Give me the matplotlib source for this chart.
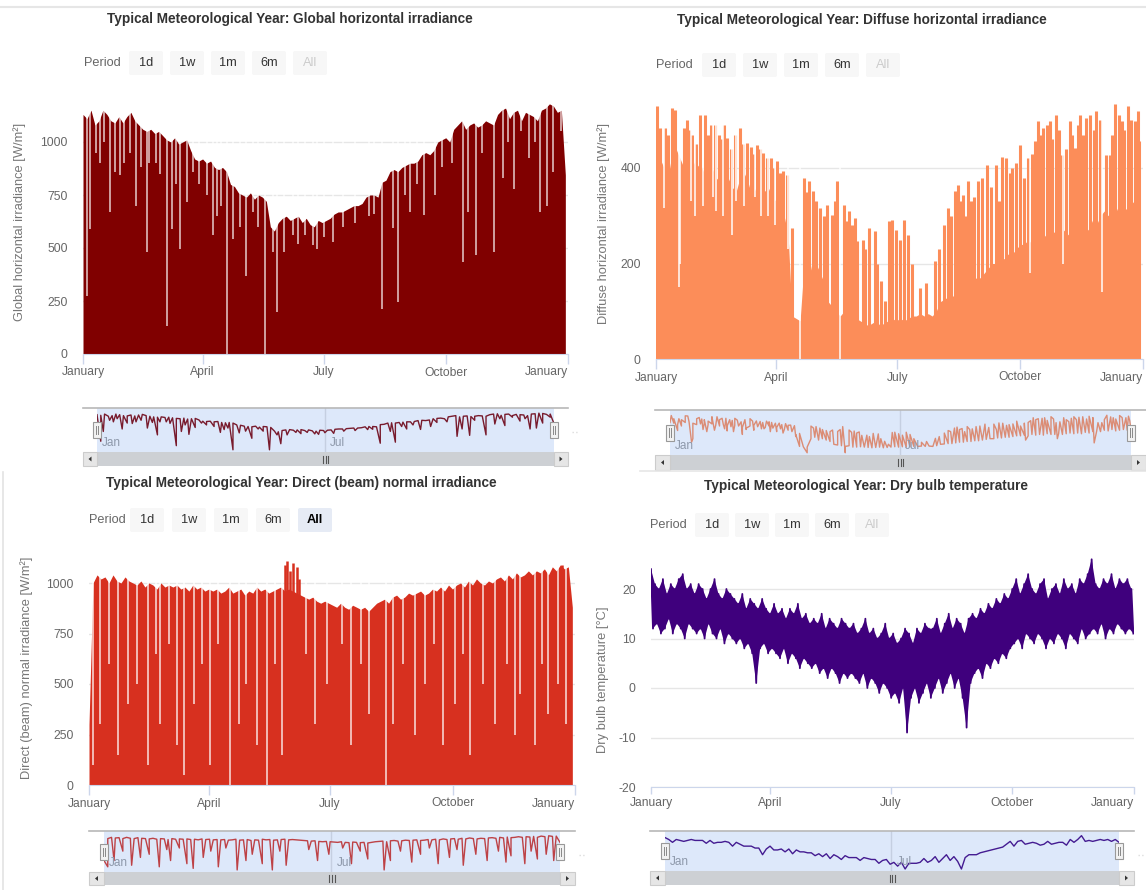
import numpy as np
import matplotlib
matplotlib.use("Agg")
import matplotlib.pyplot as plt
from matplotlib.patches import Rectangle, FancyBboxPatch, Polygon
from matplotlib.lines import Line2D

plt.rcParams['font.family'] = ['Liberation Sans', 'DejaVu Sans']
plt.rcParams['axes.unicode_minus'] = False

# ---------------------------------------------------------------- data
DAYS = list(range(0, 364, 3))                      # sample day of year
MONTH_TICKS = [0, 90, 181, 273, 365]
MONTH_LABELS = ['January', 'April', 'July', 'October', 'January']
NAV_LABEL_DAYS = [0, 181]
NAV_LABELS = ['Jan', 'Jul']
PERIOD_BUTTONS = ['1d', '1w', '1m', '6m', 'All']

TITLES = ['Typical Meteorological Year: Global horizontal irradiance',
          'Typical Meteorological Year: Diffuse horizontal irradiance',
          'Typical Meteorological Year: Direct (beam) normal irradiance',
          'Typical Meteorological Year: Dry bulb temperature']
YLABELS = ['Global horizontal irradiance [W/m²]',
           'Diffuse horizontal irradiance [W/m²]',
           'Direct (beam) normal irradiance [W/m²]',
           'Dry bulb temperature [°C]']

# Global horizontal irradiance: daily peak envelope (every 3 days) + low days
GHI_PEAK = [1130, 1110, 1150, 1080, 1100, 1150, 1130, 1100, 1090, 1120, 1090,
            1120, 1140, 1100, 1080, 1060, 1050, 1060, 1040, 1050, 1030,
            1010, 1000, 1020, 990, 1000, 1010, 960, 920, 910, 920,
            900, 910, 880, 870, 880, 860, 800, 790, 760, 750,
            740, 760, 730, 750, 740, 720, 600, 580, 620, 640,
            650, 630, 640, 650, 620, 640, 610, 600, 630, 620,
            630, 640, 660, 670, 670, 680, 690, 700, 700, 710,
            740, 750, 750, 740, 810, 820, 860, 870, 860, 880,
            890, 900, 900, 910, 940, 950, 940, 960, 1000, 1010,
            1020, 1000, 1060, 1080, 1100, 1060, 1080, 1090, 1070, 1080,
            1100, 1090, 1080, 1130, 1150, 1160, 1110, 1140, 1150, 1100,
            1140, 1130, 1120, 1100, 1150, 1160, 1180, 1170, 1140, 1150, 845]
GHI_DIP_DAYS = [3, 5, 10, 13, 16, 20, 24, 28, 31, 35, 40, 44, 48, 50, 55, 58,
                63, 67, 70, 73, 78, 83, 87, 93, 98, 101, 104, 108, 113, 118,
                123, 128, 132, 137, 143, 146, 151, 158, 162, 167, 173, 176,
                181, 188, 196, 205, 215, 219, 225, 233, 237, 242, 246, 251,
                257, 265, 270, 278, 286, 290, 296, 300, 309, 316, 320, 324,
                330, 336, 340, 344, 349, 354, 360]
GHI_DIP_VALUES = [275, 590, 950, 900, 1000, 670, 860, 845, 900, 950, 700, 880,
                  480, 900, 900, 850, 133, 590, 800, 497, 718, 860, 800, 750,
                  560, 650, 700, 0, 544, 600, 370, 670, 600, 0, 480, 196, 480,
                  560, 520, 560, 512, 497, 550, 528, 600, 620, 650, 660, 212,
                  592, 245, 750, 670, 800, 655, 750, 880, 900, 433, 670, 465,
                  950, 480, 830, 1000, 780, 1050, 924, 1000, 670, 700, 860, 1050]

# Diffuse horizontal irradiance: base level (every 3 days) + peak days + low days
DHI_BASE = [430, 420, 400, 380, 430, 440, 420, 400, 410, 420, 400,
            410, 390, 380, 400, 380, 370, 390, 380, 360, 350,
            380, 390, 370, 340, 360, 380, 350, 360, 340, 330,
            320, 300, 260, 90, 85, 80, 200, 220, 180, 200,
            180, 160, 120, 110, 100, 90, 100, 80, 80, 85,
            80, 75, 70, 75, 80, 70, 75, 80, 85, 80,
            85, 80, 85, 90, 90, 95, 90, 95, 90, 100,
            120, 125, 130, 130, 140, 150, 150, 160, 160, 170,
            170, 180, 190, 200, 200, 210, 210, 220, 220, 230,
            240, 240, 250, 240, 260, 250, 260, 250, 270, 260,
            260, 270, 260, 270, 280, 270, 280, 270, 290, 280,
            300, 310, 300, 320, 310, 330, 310, 320, 330, 320, 330]
DHI_PEAK_DAYS = [1, 3, 7, 9, 12, 14, 21, 23, 25, 27, 30, 33, 37, 39, 41, 44,
                 47, 49, 51, 53, 56, 59, 63, 65, 68, 71, 73, 76, 78, 80, 83,
                 86, 88, 91, 93, 95, 98, 102, 111, 113, 115, 118, 120, 123,
                 126, 128, 132, 134, 136, 141, 143, 145, 147, 149, 151, 155,
                 157, 160, 164, 166, 169, 172, 175, 177, 180, 183, 186, 189,
                 192, 198, 202, 209, 212, 216, 219, 221, 224, 226, 228, 230,
                 232, 234, 236, 238, 241, 244, 248, 251, 255, 257, 259, 262,
                 265, 267, 270, 273, 276, 279, 282, 284, 286, 288, 290, 293,
                 295, 297, 300, 302, 304, 307, 310, 312, 314, 316, 318, 320,
                 322, 325, 328, 330, 333, 337, 340, 342, 344, 347, 349, 351,
                 354, 356, 359, 361, 362]
DHI_PEAK_VALUES = [529, 484, 484, 470, 525, 522, 484, 501, 480, 470, 450, 512,
                   512, 470, 490, 490, 470, 460, 490, 463, 440, 470, 484, 450,
                   452, 445, 430, 449, 440, 431, 420, 421, 400, 414, 390, 393,
                   385, 275, 379, 350, 372, 351, 330, 316, 300, 323, 302, 330,
                   372, 323, 290, 309, 280, 296, 247, 250, 230, 275, 268, 200,
                   163, 121, 288, 292, 270, 250, 292, 260, 200, 149, 160, 205,
                   230, 280, 316, 300, 351, 365, 330, 344, 300, 372, 330, 340,
                   372, 380, 407, 360, 407, 330, 424, 420, 390, 400, 410, 449,
                   380, 421, 430, 456, 498, 470, 484, 490, 498, 460, 512, 480,
                   428, 440, 498, 470, 442, 490, 512, 470, 505, 512, 480, 519,
                   500, 428, 428, 470, 533, 510, 498, 480, 529, 500, 498, 520, 456]
DHI_DIP_DAYS = [6, 17, 18, 26, 29, 35, 43, 45, 50, 57, 60, 66, 74, 79, 84, 89,
                99, 108, 138, 280, 305, 334]
DHI_DIP_VALUES = [316, 150, 200, 330, 300, 320, 340, 310, 300, 260, 330, 320,
                  340, 300, 300, 280, 230, 0, 0, 180, 200, 140]

# Direct normal irradiance: daily peak envelope (every 3 days) + clear peaks + low days
DNI_PEAK = [300, 1000, 1040, 1020, 1030, 1000, 1040, 1010, 1000, 1030, 1010,
            1000, 990, 1010, 980, 1000, 990, 970, 1000, 980, 990,
            980, 990, 970, 980, 960, 990, 970, 980, 960, 970,
            960, 970, 950, 960, 980, 950, 960, 970, 940, 960,
            950, 980, 960, 970, 950, 960, 970, 980, 960, 970,
            960, 950, 940, 930, 920, 930, 910, 900, 910, 900,
            890, 880, 900, 880, 870, 890, 880, 870, 880, 860,
            880, 900, 910, 920, 900, 930, 940, 920, 930, 950,
            940, 950, 960, 940, 950, 970, 960, 980, 960, 990,
            970, 990, 1000, 980, 1010, 990, 1020, 1000, 990, 1010,
            1000, 1020, 1030, 1010, 1040, 1020, 1050, 1030, 1040, 1060,
            1040, 1060, 1050, 1070, 1040, 1080, 1060, 1090, 1070, 1080, 880]
DNI_HIGH_DAYS = [147, 149, 151, 153, 156, 158, 355]
DNI_HIGH_VALUES = [1090, 1110, 1060, 1100, 1080, 1020, 1090]
DNI_DIP_DAYS = [3, 8, 15, 22, 29, 36, 44, 50, 53, 60, 66, 71, 79, 85, 91, 97,
                106, 113, 118, 126, 134, 140, 145, 163, 170, 179, 190, 197,
                204, 210, 223, 228, 236, 245, 252, 259, 266, 275, 281, 286,
                296, 305, 314, 320, 324, 335, 340, 345, 352, 358]
DNI_DIP_VALUES = [100, 300, 600, 150, 400, 500, 100, 650, 300, 700, 200, 50,
                  400, 600, 100, 700, 0, 300, 500, 200, 0, 600, 150, 650, 300,
                  500, 700, 200, 600, 350, 0, 300, 600, 250, 500, 700, 200,
                  400, 650, 150, 500, 300, 600, 250, 450, 200, 600, 350, 500, 300]

# Dry bulb temperature: daily maxima (days 0,3,..) and minima (days 1.5,4.5,..)
TEMP_MAX = [24, 21, 20, 22, 19, 21, 20, 22, 23, 20, 21,
            19, 21, 20, 18, 20, 22, 19, 18, 20, 19,
            18, 17, 19, 16, 18, 17, 16, 18, 16, 15,
            17, 15, 16, 14, 16, 15, 17, 14, 15, 13,
            14, 13, 15, 12, 14, 13, 12, 14, 13, 12,
            13, 11, 12, 14, 11, 12, 10, 11, 13, 10,
            11, 9, 10, 12, 11, 9, 12, 11, 13, 12,
            12, 14, 11, 13, 15, 12, 14, 13, 11, 14,
            15, 14, 16, 15, 17, 16, 18, 17, 19, 18,
            20, 22, 19, 21, 23, 20, 19, 21, 22, 18,
            20, 21, 19, 22, 20, 21, 19, 22, 21, 23,
            26, 21, 20, 22, 21, 23, 20, 22, 21, 22, 20]
TEMP_MIN = [12, 13, 11, 12, 14, 11, 13, 12, 10, 13, 12,
            11, 12, 10, 13, 11, 10, 12, 9, 11, 10,
            9, 10, 8, 9, 7, 1, 8, 9, 7, 8,
            7, 6, 8, 5, 7, 6, 4, 6, 5, 4,
            5, 3, 4, 2, 4, 3, 1, 3, 2, 3,
            2, 1, 3, 0, 2, 1, -1, 1, 0, -2,
            -1, -3, 0, -9, -2, 0, -3, -1, 1, -2,
            0, 2, -1, 1, 3, 0, 2, -2, -8, 1,
            3, 4, 2, 5, 4, 6, 5, 7, 6, 8,
            9, 10, 8, 11, 10, 9, 11, 10, 8, 10,
            9, 11, 10, 8, 11, 10, 9, 12, 10, 11,
            12, 11, 13, 10, 12, 11, 13, 12, 11, 12, 11]

GHI_COLOR = '#800000'
DHI_COLOR = '#fc8d59'
DNI_COLOR = '#d7301f'
TEMP_COLOR = '#3f007d'

# ---------------------------------------------------------------- helpers
W, H = 1146, 890
fig = plt.figure(figsize=(W / 100, H / 100), dpi=100)
fig.patch.set_facecolor('white')


def pbox(x0, y0, x1, y1):
    return [x0 / W, 1 - y1 / H, (x1 - x0) / W, (y1 - y0) / H]


def ftext(x, y, s, **kw):
    fig.text(x / W, 1 - y / H, s, **kw)


def frect(x0, y0, x1, y1, **kw):
    fig.patches.append(Rectangle((x0 / W, 1 - y1 / H), (x1 - x0) / W, (y1 - y0) / H,
                                 transform=fig.transFigure, **kw))


def fline(xs, ys, **kw):
    fig.lines.append(Line2D([x / W for x in xs], [1 - y / H for y in ys],
                            transform=fig.transFigure, **kw))


def fpoly(pts, **kw):
    fig.patches.append(Polygon([(x / W, 1 - y / H) for x, y in pts],
                               closed=True, transform=fig.transFigure, **kw))


def header(title, tx, ty, px, py, bx0, step, selected=False):
    ftext(tx, ty, title, fontsize=9.8, fontweight='bold', color='#333333',
          ha='center', va='center')
    ftext(px, py, 'Period', fontsize=9.2, color='#666666', ha='left', va='center')
    for i, lab in enumerate(PERIOD_BUTTONS):
        x0 = bx0 + i * step
        face, col, wt = '#f7f7f7', '#333333', 'normal'
        if lab == 'All':
            if selected:
                face, col, wt = '#e6ebf5', '#000000', 'bold'
            else:
                col = '#cccccc'
        fig.patches.append(FancyBboxPatch(((x0 + 1) / W, 1 - (py + 12) / H),
                                          34 / W, 24 / H,
                                          boxstyle='round,pad=0,rounding_size=0.002',
                                          transform=fig.transFigure, fc=face, ec='none'))
        ftext(x0 + 18, py, lab, fontsize=9.2, color=col, fontweight=wt,
              ha='center', va='center')


def main_axes(x0, x1, ytop, ybot, vbot, vref, yref, yticks, ylabel, lx, ly, tick_len):
    s = (ybot - yref) / (vref - vbot)
    vtop = vbot + (ybot - ytop) / s
    ax = fig.add_axes(pbox(x0, ytop, x1, ybot))
    ax.set_xlim(0, 365)
    ax.set_ylim(vbot, vtop)
    ax.patch.set_alpha(0)
    for sp in ['top', 'right', 'left']:
        ax.spines[sp].set_visible(False)
    ax.spines['bottom'].set_color('#ccd6eb')
    ax.set_yticks(yticks)
    ax.yaxis.grid(True, color='#e6e6e6', lw=1)
    ax.set_axisbelow(True)
    ax.tick_params(axis='y', length=0, pad=11, labelsize=8.7, labelcolor='#666666')
    ax.set_xticks(MONTH_TICKS)
    ax.set_xticklabels(MONTH_LABELS)
    ax.tick_params(axis='x', length=tick_len, width=1, color='#ccd6eb', pad=2,
                   labelsize=8.7, labelcolor='#666666')
    ax.get_xticklabels()[-1].set_ha('right')
    ftext(lx, ly, ylabel, fontsize=9.3, color='#777777', rotation=90,
          ha='center', va='center')
    return ax, vtop


def navigator(ox0, ox1, top, bot, sx0, sx1, sbb, xs, ys, color):
    ax = fig.add_axes(pbox(sx0, top, sx1, bot))
    ymin, ymax = min(ys), max(ys)
    rng = ymax - ymin
    ax.set_xlim(min(xs), max(xs))
    ax.set_ylim(ymin - 0.06 * rng, ymax + 0.14 * rng)
    ax.axvline(NAV_LABEL_DAYS[1], color='#e0e0e0', lw=1, zorder=0)
    ax.plot(xs, ys, color=color, lw=1, zorder=2)
    ax.add_patch(Rectangle((0, 0), 1, 1, transform=ax.transAxes,
                           fc=(0.35, 0.55, 0.9, 0.2), ec='none', zorder=3))
    ax.axis('off')
    for d, lab in zip(NAV_LABEL_DAYS, NAV_LABELS):
        xp = sx0 + (d - min(xs)) / (max(xs) - min(xs)) * (sx1 - sx0)
        ftext(xp + 5, bot - 9, lab, fontsize=8.5, color='#8d98aa', ha='left',
              va='center')
    fline([ox0, ox1], [top, top], color='#b8b8b8', lw=1.2)
    cy = (top + bot) / 2
    for hx in (sx0, sx1):
        frect(hx - 4, cy - 8, hx + 4, cy + 8, fc='#f2f2f2', ec='#999999', lw=0.8)
        fline([hx - 1.3, hx - 1.3], [cy - 4, cy + 4], color='#888888', lw=0.7)
        fline([hx + 1.3, hx + 1.3], [cy - 4, cy + 4], color='#888888', lw=0.7)
    frect(ox0, bot, ox1, sbb, fc='#f2f2f2', ec='none')
    frect(sx0, bot, sx1, sbb, fc='#cdd0d4', ec='none')
    frect(ox0, bot, sx0, sbb, fc='#e6e6e6', ec='#cccccc', lw=0.8)
    frect(sx1, bot, ox1, sbb, fc='#e6e6e6', ec='#cccccc', lw=0.8)
    my = (bot + sbb) / 2
    ax0 = (ox0 + sx0) / 2
    fpoly([(ax0 + 1.5, my - 2.5), (ax0 + 1.5, my + 2.5), (ax0 - 1.5, my)], fc='#333333', ec='none')
    ax1 = (sx1 + ox1) / 2
    fpoly([(ax1 - 1.5, my - 2.5), (ax1 - 1.5, my + 2.5), (ax1 + 1.5, my)], fc='#333333', ec='none')
    gx = (sx0 + sx1) / 2
    for dx in (-2.5, 0, 2.5):
        fline([gx + dx, gx + dx], [my - 3.5, my + 3.5], color='#555555', lw=0.8)
    fline([ox1 + 4, ox1 + 10], [top + 24, top + 24], color='#dddddd', lw=1, ls=':')


def merged(days_a, vals_a, days_b, vals_b):
    pts = sorted(list(zip(days_a, vals_a)) + list(zip(days_b, vals_b)))
    return [p[0] for p in pts], [p[1] for p in pts]


fline([0, W], [7, 7], color='#e6e6e6', lw=1.5)
fline([640, W], [471, 471], color='#e6e6e6', lw=1.2)
fline([3, 3], [472, 890], color='#e3e3e3', lw=1.2)

# ---------------------------------------------------------------- panel 1: GHI
header(TITLES[0], 290, 19, 84, 63, 128, 41)
ax, vtop = main_axes(83, 568, 100, 354, 0, 1000, 142, [0, 250, 500, 750, 1000],
                     YLABELS[0], 20, 222, 7)
ax.fill_between(DAYS, 0, GHI_PEAK, color=GHI_COLOR, lw=0, zorder=1)
ax.vlines(GHI_DIP_DAYS, GHI_DIP_VALUES, vtop, color='white', lw=1.1, alpha=0.8, zorder=1.5)
nx, ny = merged(DAYS, GHI_PEAK, GHI_DIP_DAYS, GHI_DIP_VALUES)
navigator(83, 568, 408, 452, 97, 554, 466, nx, ny, GHI_COLOR)

# ---------------------------------------------------------------- panel 2: DHI
header(TITLES[1], 862, 20, 656, 65, 701, 41)
ax, vtop = main_axes(656, 1143, 100, 359, 0, 400, 168, [0, 200, 400],
                     YLABELS[1], 604, 224, 7)
ax.fill_between(DAYS, 0, DHI_BASE, color=DHI_COLOR, lw=0, zorder=1)
ax.vlines(DHI_PEAK_DAYS, 0, DHI_PEAK_VALUES, color=DHI_COLOR, lw=2.2, zorder=1.2)
ax.vlines(DHI_DIP_DAYS, DHI_DIP_VALUES, vtop, color='white', lw=1.2, alpha=0.9, zorder=1.5)
nx, ny = merged(DAYS, DHI_BASE, DHI_PEAK_DAYS, DHI_PEAK_VALUES)
nx, ny = merged(nx, ny, DHI_DIP_DAYS, DHI_DIP_VALUES)
navigator(655, 1146, 410, 455, 670, 1131, 470, nx, ny, DHI_COLOR)

# ---------------------------------------------------------------- panel 3: DNI
header(TITLES[2], 301, 483, 89, 520, 129, 42, selected=True)
ax, vtop = main_axes(89, 575, 550, 785, 0, 1000, 583, [0, 250, 500, 750, 1000],
                     YLABELS[2], 27, 668, 7)
ax.fill_between(DAYS, 0, DNI_PEAK, color=DNI_COLOR, lw=0, zorder=1)
ax.vlines(DNI_HIGH_DAYS, 0, DNI_HIGH_VALUES, color=DNI_COLOR, lw=1.8, zorder=1.2)
ax.vlines(DNI_DIP_DAYS, DNI_DIP_VALUES, vtop, color='white', lw=1.1, alpha=0.85, zorder=1.5)
nx, ny = merged(DAYS, DNI_PEAK, DNI_DIP_DAYS, DNI_DIP_VALUES)
navigator(89, 575, 831, 872, 104, 560, 885, nx, ny, DNI_COLOR)

# ---------------------------------------------------------------- panel 4: temperature
header(TITLES[3], 866, 486, 650, 525, 694, 40)
ax, vtop = main_axes(651, 1134, 555, 787, -20, 20, 589, [-20, -10, 0, 10, 20],
                     YLABELS[3], 603, 680, 5)
tx, ty = [], []
for d, hi, lo in zip(DAYS, TEMP_MAX, TEMP_MIN):
    tx += [d, d + 1.5]
    ty += [hi, lo]
lo_x = [d + 1.5 for d in DAYS]
ax.fill(list(DAYS) + lo_x[::-1], list(TEMP_MAX) + list(TEMP_MIN)[::-1],
        color=TEMP_COLOR, lw=0, zorder=1.8)
ax.plot(tx, ty, color=TEMP_COLOR, lw=1.3, zorder=2)
daily_mean = [(hi + lo) / 2 for hi, lo in zip(TEMP_MAX, TEMP_MIN)]
navigator(650, 1134, 831, 871, 665, 1119, 885, DAYS, daily_mean, TEMP_COLOR)

fig.savefig('out.png', dpi=100, facecolor='white')
